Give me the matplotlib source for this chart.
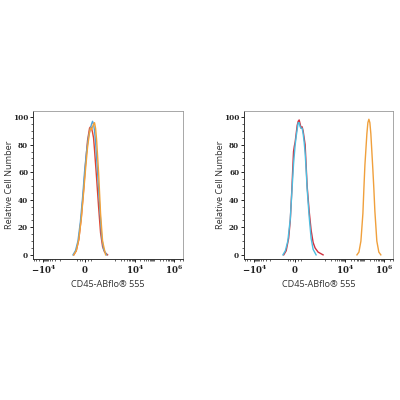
import numpy as np
import matplotlib
matplotlib.use("Agg")
import matplotlib.pyplot as plt
from matplotlib.ticker import FixedLocator, FixedFormatter

# biexponential-like display: linear near zero, log decades outside
LT = 1000.0   # linear threshold
LS = 1.56     # decades used by the linear part
NEG = 0.82    # negative side is compressed


def fwd(x):
    x = np.asarray(x, dtype=float)
    a = np.abs(x)
    u = np.where(a <= LT, a / LT * LS, LS + np.log10(np.maximum(a, LT) / LT))
    return np.sign(x) * u * np.where(x < 0, NEG, 1.0)


def inv(u):
    u = np.asarray(u, dtype=float)
    a = np.abs(u) / np.where(u < 0, NEG, 1.0)
    a = np.minimum(a, 300)
    x = np.where(a <= LS, a / LS * LT, LT * 10 ** (np.maximum(a, LS) - LS))
    return np.sign(u) * x


# ---- data (fluorescence value, relative cell number) ----
# left panel
left_red_x = [-430, -330, -230, -130, -33, 33, 99, 165, 197, 230, 263, 296, 329, 395, 461, 526, 592, 658, 757]
left_red_y = [0, 3, 11, 27, 48, 66, 83, 92, 93, 92, 89, 85, 76, 56, 35, 16, 6, 2, 0]

left_blue_x = [-461, -362, -263, -165, -66, 0, 66, 132, 197, 230, 263, 296, 329, 362, 428, 494, 559, 625, 724]
left_blue_y = [0, 3, 10, 24, 44, 60, 75, 86, 92, 95, 97, 95, 90, 82, 60, 36, 14, 4, 0]

left_orange_x = [-430, -330, -230, -130, -33, 33, 99, 165, 197, 230, 263, 296, 329, 362, 395, 461, 526, 592, 691]
left_orange_y = [0, 3, 11, 26, 46, 62, 78, 89, 92, 91, 93, 95, 96, 92, 84, 60, 30, 10, 0]

# right panel
right_red_x = [-461, -362, -263, -197, -132, -99, -66, -33, 0, 33, 66, 99, 132, 165, 197, 230, 263,
               296, 329, 362, 395, 461, 526, 592, 658, 757, 921]
right_red_y = [0, 3, 12, 25, 48, 62, 75, 79, 82, 88, 94, 97, 98, 95, 92, 93, 90,
               85, 80, 65, 50, 32, 18, 9, 5, 2, 0]

right_blue_x = [-494, -395, -296, -197, -132, -66, 0, 33, 66, 99, 132, 165, 197, 230, 263, 296,
                329, 362, 395, 461, 526, 592, 691]
right_blue_y = [0, 3, 10, 26, 46, 66, 80, 86, 91, 96, 96, 93, 92, 92, 88, 82,
                74, 62, 48, 28, 12, 4, 0]

right_orange_x = [41700, 52700, 66800, 84500, 95000, 107100, 135600, 152700, 171800, 193200,
                  217000, 275400, 310000, 349000, 441000, 559800, 708000]
right_orange_y = [0, 2, 10, 30, 48, 65, 88, 96, 98.5, 96, 88, 62, 48, 32, 10, 2, 0]

xticks = [-1e4, 0, 1e4, 1e6]
xtick_labels = [r"$\mathbf{-10^{4}}$", r"$\mathbf{0}$", r"$\mathbf{10^{4}}$", r"$\mathbf{10^{6}}$"]
yticks = [0, 20, 40, 60, 80, 100]

plt.rcParams["mathtext.fontset"] = "dejavuserif"

minor = []
for k in range(3, 7):
    for m in range(1, 10):
        minor.append(m * 10.0 ** k)
        if k < 5:
            minor.append(-m * 10.0 ** k)
minor += [-300, -200, -100, 100, 200]

fig = plt.figure(figsize=(4, 4), dpi=100)
ax1 = fig.add_axes([0.0825, 0.3525, 0.375, 0.37])
ax2 = fig.add_axes([0.61, 0.3525, 0.3725, 0.37])

curves = [
    (ax1, [(left_red_x, left_red_y, "#e2432e"),
           (left_blue_x, left_blue_y, "#4fa3d9"),
           (left_orange_x, left_orange_y, "#f2a23a")]),
    (ax2, [(right_red_x, right_red_y, "#d0303e"),
           (right_blue_x, right_blue_y, "#4cbde0"),
           (right_orange_x, right_orange_y, "#f0a03c")]),
]

for ax, series in curves:
    ax.set_xscale("function", functions=(fwd, inv))
    for xs, ys, c in series:
        ax.plot(xs, ys, color=c, lw=1.0)
    ax.set_xlim(-45000, 3.0e6)
    ax.set_ylim(-3, 104.5)
    ax.xaxis.set_major_locator(FixedLocator(xticks))
    ax.xaxis.set_major_formatter(FixedFormatter(xtick_labels))
    ax.xaxis.set_minor_locator(FixedLocator(minor))
    ax.set_yticks(yticks)
    ax.set_yticks(np.arange(0, 101, 5), minor=True)
    ax.set_yticklabels([str(v) for v in yticks], fontfamily="DejaVu Serif",
                       fontweight="bold", fontsize=5.2)
    for lab in ax.get_xticklabels():
        lab.set_fontsize(6.2)
    ax.tick_params(which="major", direction="out", length=2.5, width=0.7,
                   pad=1, colors="#222222")
    ax.tick_params(which="minor", direction="out", length=1.3, width=0.5,
                   colors="#222222")
    ax.tick_params(top=False, right=False)
    for side in ("left", "bottom"):
        ax.spines[side].set_color("#333333")
        ax.spines[side].set_linewidth(0.7)
    for side in ("top", "right"):
        ax.spines[side].set_color("#999999")
        ax.spines[side].set_linewidth(0.6)
    ax.set_ylabel("Relative Cell Number", fontfamily="Open Sans", fontsize=6.6,
                  color="#333333")
    ax.yaxis.set_label_coords(-0.125, 0.5)
    ax.set_xlabel("CD45-ABflo\u00ae 555", fontfamily="Open Sans", fontsize=6.6,
                  color="#333333", labelpad=3)

fig.savefig("out.png", dpi=100, facecolor="white")
